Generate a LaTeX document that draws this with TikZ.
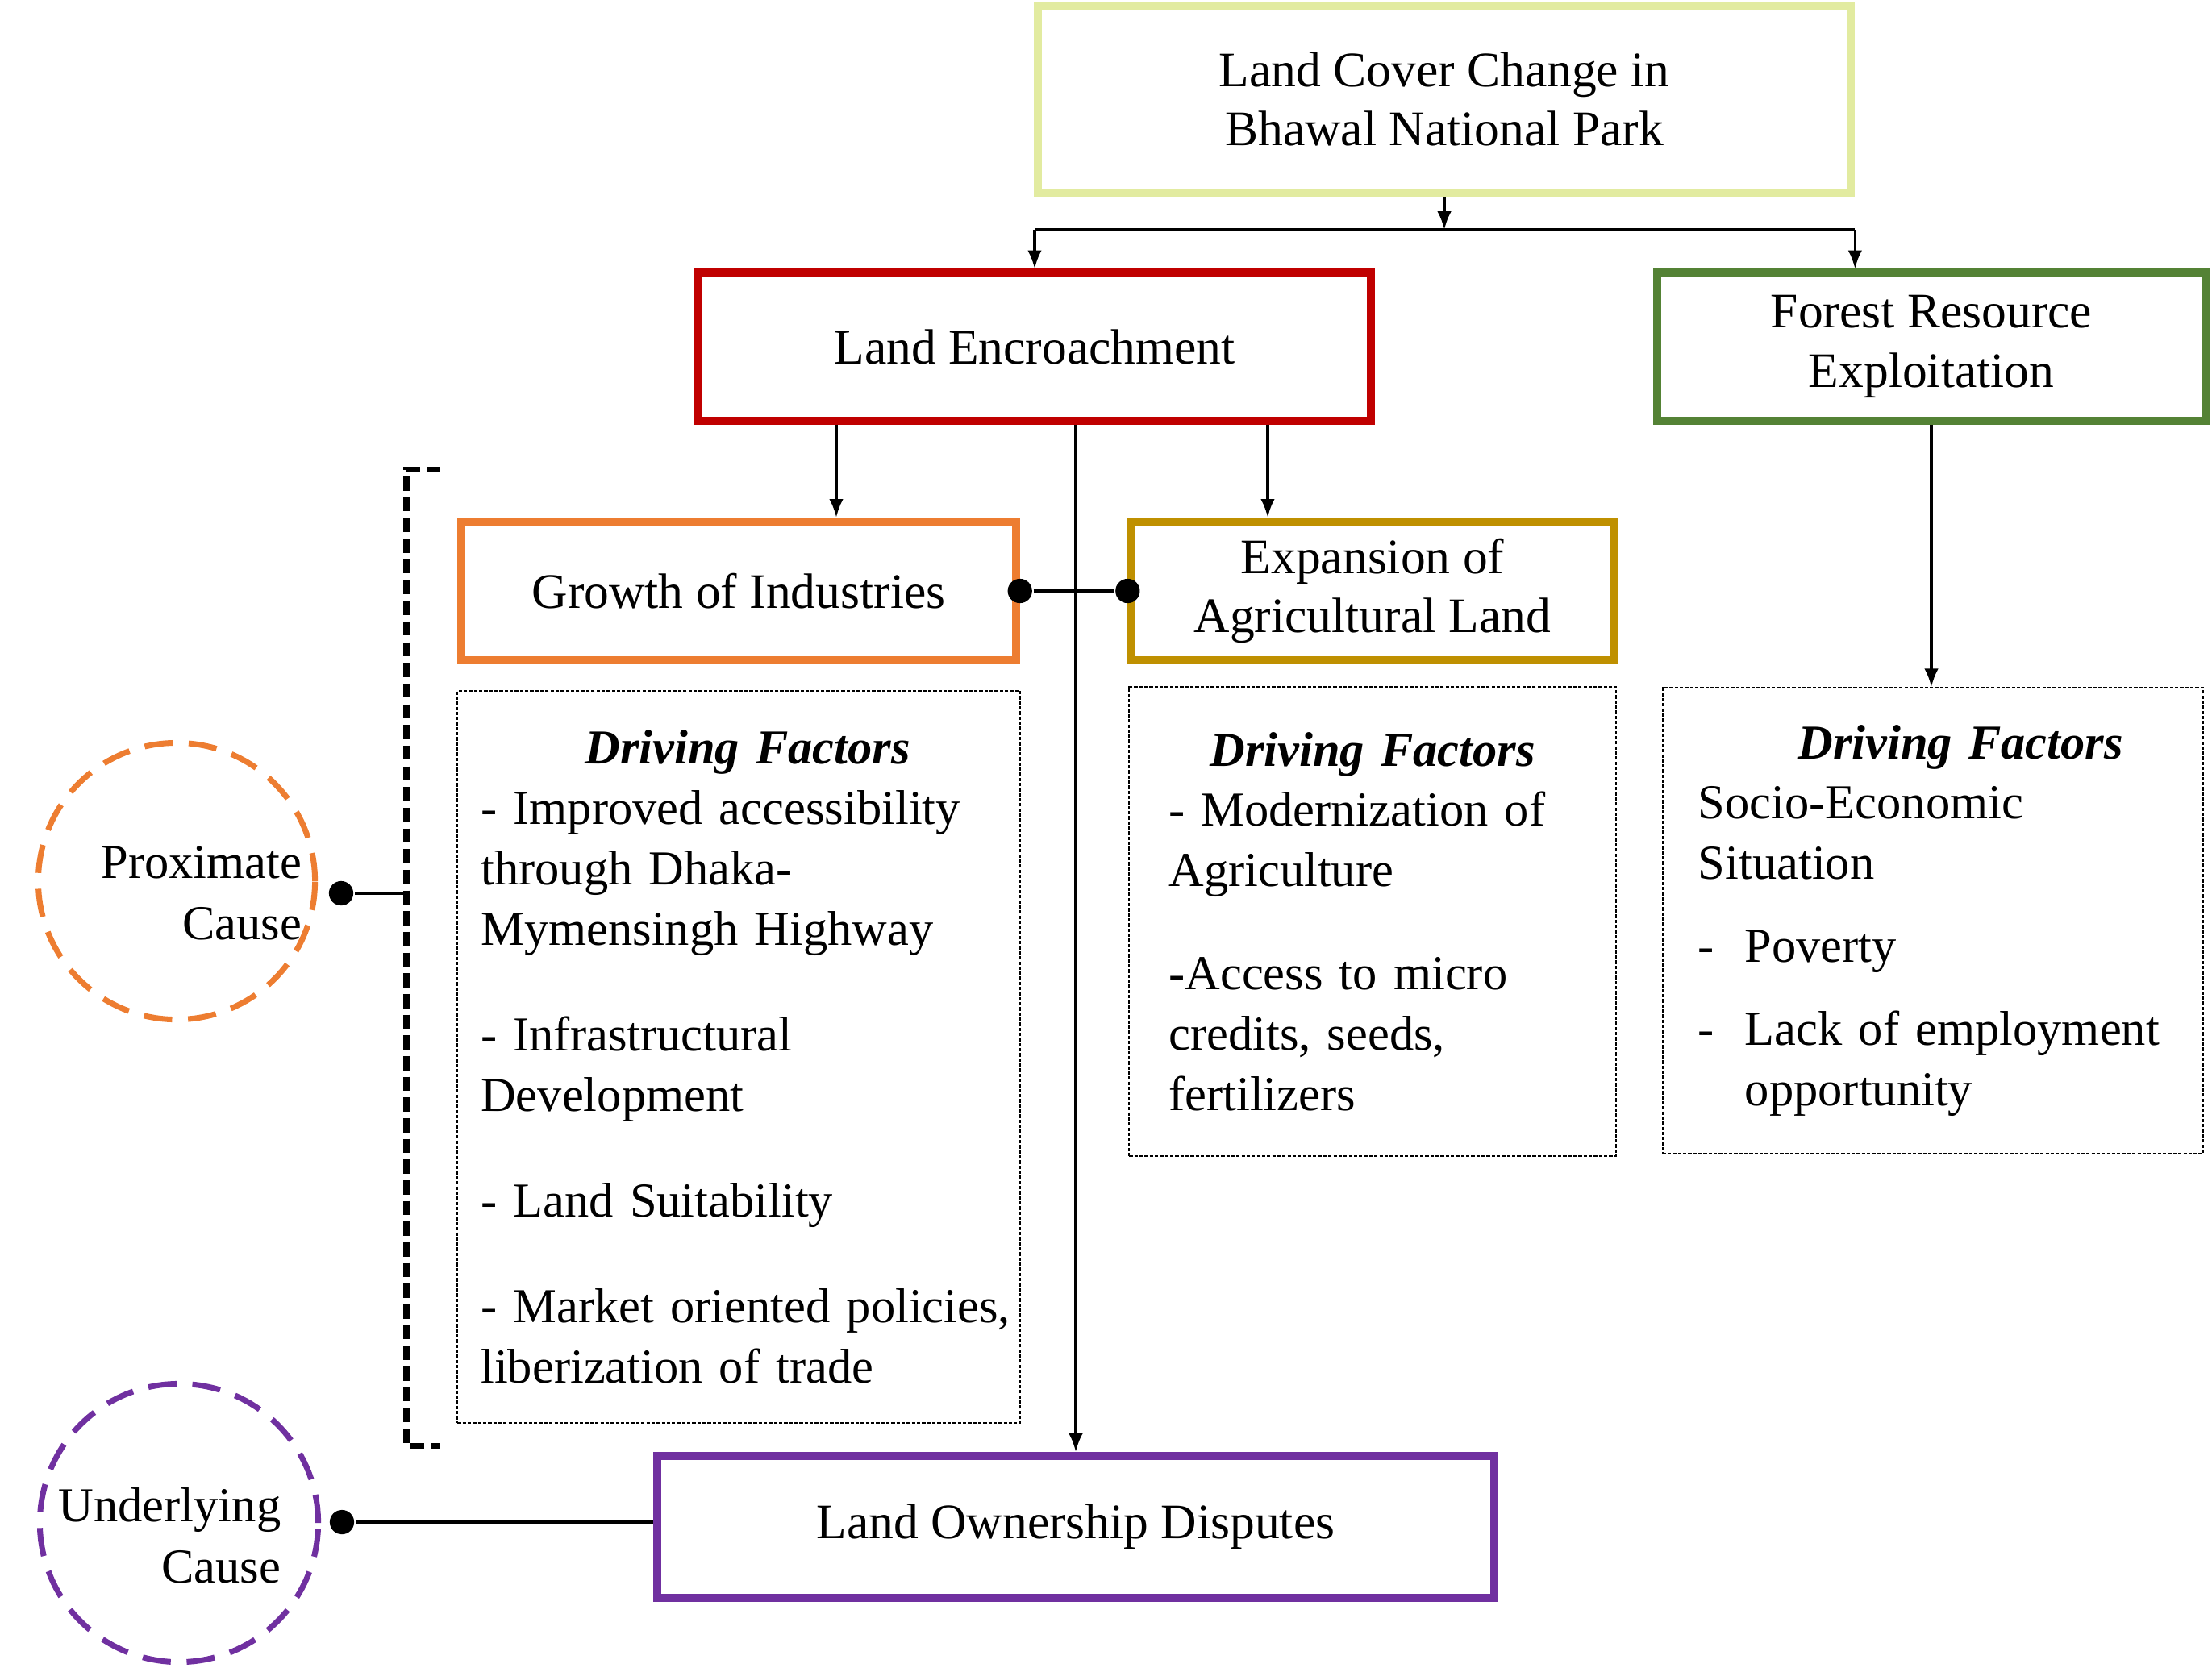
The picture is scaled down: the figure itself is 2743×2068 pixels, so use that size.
\documentclass[tikz,border=0pt]{standalone}
\usepackage{fontspec}
\setmainfont{Liberation Serif}
\usetikzlibrary{positioning, arrows.meta, shapes}
\definecolor{covercolor}{RGB}{226,235,160}
\definecolor{encroachcolor}{RGB}{192,0,0}
\definecolor{forestcolor}{RGB}{84,130,53}
\definecolor{industrycolor}{RGB}{237,125,49}
\definecolor{agricolor}{RGB}{191,144,0}
\definecolor{disputecolor}{RGB}{112,48,160}
\tikzset{Box style/.style={line width=2.85pt, draw, align=center, inner sep=0pt, font=\fontsize{17.5}{21}\selectfont}}
\tikzset{Factor style/.style={draw=black, line width=0.6pt, dash pattern=on 1.2pt off 0.6pt, inner sep=0pt, align=left, font=\fontsize{17.2}{21.3}\selectfont}}
\tikzset{Cause style/.style={circle, line width=2pt, dash pattern=on 10pt off 5.6pt, inner sep=0pt}}
\tikzset{Cause text/.style={align=right, anchor=east, inner sep=0pt, font=\fontsize{17.2}{21.5}\selectfont}}
\tikzset{Dot style/.style={circle, fill=black, inner sep=0pt, minimum size=8.6pt}}
\tikzset{
	>={Latex[length=6.5pt,width=5pt]}, % puntas de flecha pequenas
}

\begin{document}
\begin{tikzpicture}[x=0.01cm, y=-0.01cm, line width=1pt]
        \useasboundingbox (0,0) rectangle (2743,2068);

        % main boxes
        \node[Box style, draw=covercolor, minimum width=10.08cm, minimum height=2.32cm] (cover) at (1791,123) {Land Cover Change in\\Bhawal National Park};
        \node[Box style, draw=encroachcolor, minimum width=8.33cm, minimum height=1.83cm] (encroach) at (1283,430) {Land Encroachment};
        \node[Box style, draw=forestcolor, minimum width=6.80cm, minimum height=1.83cm] (forest) at (2395,430) {Forest Resource\\Exploitation};
        \node[Box style, draw=industrycolor, minimum width=6.87cm, minimum height=1.72cm] (industries) at (916,733) {Growth of Industries};
        \node[Box style, draw=agricolor, minimum width=5.97cm, minimum height=1.72cm] (agri) at (1702,733) {Expansion of\\Agricultural Land};
        \node[Box style, draw=disputecolor, minimum width=10.37cm, minimum height=1.76cm] (disputes) at (1334,1894) {Land Ownership Disputes};

        % driving factors
        \node[Factor style, minimum width=6.97cm, minimum height=9.08cm, text width=6.39cm] (factors1) at (916,1311) {
            \makebox[6.61cm]{\textbf{\textit{Driving Factors}}}\\
            - Improved accessibility\\
            through Dhaka-\\
            Mymensingh Highway\\[16pt]
            - Infrastructural\\
            Development\\[16pt]
            - Land Suitability\\[16pt]
            \mbox{- Market oriented policies,}\\
            liberization of trade};
        \node[Factor style, minimum width=6.03cm, minimum height=5.82cm, text width=5.05cm] (factors2) at (1702,1143) {
            \makebox[5.05cm]{\textbf{\textit{Driving Factors}}}\\
            - Modernization of\\
            Agriculture\\[15pt]
            -Access to micro\\
            credits, seeds,\\
            fertilizers};
        \node[Factor style, minimum width=6.70cm, minimum height=5.77cm, text width=5.82cm] (factors3) at (2397,1142) {
            \makebox[6.50cm]{\textbf{\textit{Driving Factors}}}\\
            Socio-Economic\\
            Situation\\[8pt]
            \makebox[0.58cm][l]{-}Poverty\\[8pt]
            \makebox[0.58cm][l]{-}Lack of employment\\
            \hspace*{0.58cm}opportunity};

        % causes
        \node[Cause style, draw=industrycolor, minimum size=3.43cm] (proximate) at (219,1093) {};
        \node[Cause text] (proximate text) at (376,1108) {Proximate\\Cause};
        \node[Cause style, draw=disputecolor, minimum size=3.45cm] (underlying) at (222,1889) {};
        \node[Cause text] (underlying text) at (350,1905) {Underlying\\Cause};

        % connectors
        \coordinate (split) at (1791,285);
        \coordinate (industries link) at (1037,0);
        \coordinate (agri link) at (1572,0);
        \coordinate (bracket top) at (504,582);
        \coordinate (bracket bottom) at (504,1793);

        \draw[->] (cover.south) -- (split);
        \draw (encroach.north |- split) -- (cover.south east |- split);
        \draw[->] (encroach.north |- split) -- (encroach.north);
        \draw[->] (cover.south east |- split) -- (cover.south east |- forest.north);
        \draw[->] (industries link |- encroach.south) -- (industries link |- industries.north);
        \draw[->] (agri link |- encroach.south) -- (agri link |- agri.north);
        \draw[->] (disputes.north |- encroach.south) -- (disputes.north);
        \draw[->] (forest.south) -- (forest.south |- factors3.north);

        \node[Dot style] (industries dot) at (industries.east) {};
        \node[Dot style] (agri dot) at (agri.west) {};
        \draw (industries dot) -- (agri dot);

        \draw[line width=2pt, dash pattern=on 5pt off 2.3pt] ([xshift=12pt]bracket top) -- (bracket top) -- (bracket bottom) -- ([xshift=12pt]bracket bottom);
        \node[Dot style] (proximate dot) at (423,1108) {};
        \draw (proximate dot) -- (proximate dot -| bracket top);
        \node[Dot style] (underlying dot) at (424,1888) {};
        \draw (underlying dot) -- (underlying dot -| disputes.west);
\end{tikzpicture}
\end{document}
